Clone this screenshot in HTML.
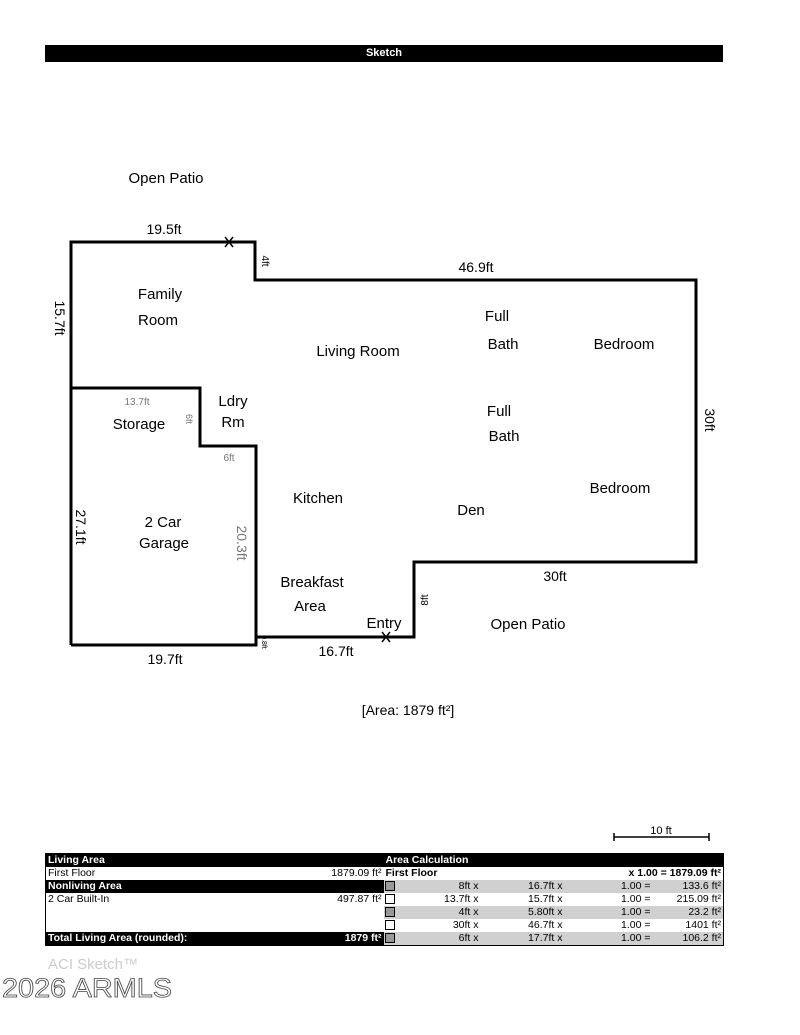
<!DOCTYPE html>
<html><head><meta charset="utf-8"><style>
body{margin:0;background:#fff;width:800px;height:1035px;overflow:hidden;font-family:"Liberation Sans",sans-serif;position:relative}
.bar{position:absolute;left:45px;top:45px;width:678px;height:17px;background:#000;color:#fff;font-weight:bold;font-size:11px;text-align:center;line-height:17px}
table{position:absolute;left:45px;top:853px;width:678px;border-collapse:collapse;table-layout:fixed;font-size:10.5px;font-family:"Liberation Sans Narrow","Liberation Sans",sans-serif;border:1px solid #000}
td{height:13px;padding:0 2px;line-height:13px;white-space:nowrap;overflow:hidden}
.h{background:#000;color:#fff;font-weight:bold}
.g{background:#d0d0d0}
.r{text-align:right}
.cb{padding:0;text-align:center}
.cb span{display:inline-block;width:8px;height:8px;border:1.5px solid #000;vertical-align:middle}
</style></head><body>
<div class="bar">Sketch</div>
<svg width="800" height="1035" style="position:absolute;left:0;top:0" font-family="Liberation Sans, DejaVu Sans, sans-serif">
<g fill="none" stroke="#000" stroke-width="3">
<polyline points="71,645 71,242 255,242 255,280 696,280 696,562 414,562 414,637 256,637"/>
<polyline points="71,388 200,388 200,446 256,446 256,645 71,645"/>
</g>
<g stroke="#000" stroke-width="1.5"><path d="M225,237 L233,247 M233,237 L225,247 M382,632 L390,642 M390,632 L382,642"/></g>
<g font-size="15" fill="#000" text-anchor="middle">
<text x="166" y="183">Open Patio</text>
<text x="164" y="234" font-size="14">19.5ft</text>
<text x="476" y="272" font-size="14">46.9ft</text>
<text x="160" y="299">Family</text><text x="158" y="325">Room</text>
<text x="358" y="356">Living Room</text>
<text x="497" y="321">Full</text><text x="503" y="349">Bath</text>
<text x="624" y="349">Bedroom</text>
<text x="499" y="416">Full</text><text x="504" y="441">Bath</text>
<text x="233" y="406">Ldry</text><text x="233" y="427">Rm</text>
<text x="139" y="429">Storage</text>
<text x="318" y="503">Kitchen</text>
<text x="471" y="515">Den</text>
<text x="620" y="493">Bedroom</text>
<text x="163" y="527">2 Car</text><text x="164" y="548">Garage</text>
<text x="312" y="587">Breakfast</text><text x="310" y="611">Area</text>
<text x="384" y="628">Entry</text>
<text x="528" y="629">Open Patio</text>
<text x="555" y="581" font-size="14">30ft</text>
<text x="336" y="656" font-size="14">16.7ft</text>
<text x="165" y="664" font-size="14">19.7ft</text>
<text x="408" y="715" font-size="14">[Area: 1879 ft²]</text>
<text x="661" y="834" font-size="11">10 ft</text>
</g>
<g fill="#777" font-size="10" text-anchor="middle">
<text x="137" y="405">13.7ft</text>
<text x="229" y="461">6ft</text>
</g>
<g font-size="14" text-anchor="middle">
<text transform="translate(55,318) rotate(90)">15.7ft</text>
<text transform="translate(76,527) rotate(90)">27.1ft</text>
<text transform="translate(705,420) rotate(90)">30ft</text>
<text transform="translate(237,543) rotate(90)" fill="#777">20.3ft</text>
<text transform="translate(262,261) rotate(90)" font-size="10">4ft</text>
<text transform="translate(428,600) rotate(-90)" font-size="10">8ft</text>
<text transform="translate(186,419) rotate(90)" font-size="9" fill="#777">6ft</text>
<text transform="translate(262,642) rotate(90)" font-size="7">0.8ft</text>
</g>
<g stroke="#000" stroke-width="1.5"><path d="M614,837 L709,837 M614,833 L614,841 M709,833 L709,841"/></g>
<text x="48" y="969" font-size="15" fill="#ccc">ACI Sketch™</text>
<text x="2" y="997" font-size="27" fill="none" stroke="#444" stroke-width="0.8" textLength="170" lengthAdjust="spacingAndGlyphs">2026 ARMLS</text>
</svg>
<table>
<colgroup><col style="width:258px"><col style="width:80px"><col style="width:12px"><col style="width:85px"><col style="width:84px"><col style="width:88px"><col style="width:71px"></colgroup>
<tr class="h"><td>Living Area</td><td></td><td colspan="5">Area Calculation</td></tr>
<tr><td>First Floor</td><td class="r">1879.09 ft²</td><td colspan="3" style="font-weight:bold">First Floor</td><td colspan="2" class="r" style="font-weight:bold">x 1.00 = 1879.09 ft²</td></tr>
<tr><td class="h">Nonliving Area</td><td class="h"></td><td class="cb g"><span style="background:#999"></span></td><td class="r g">8ft x</td><td class="r g">16.7ft x</td><td class="r g">1.00 =</td><td class="r g">133.6 ft²</td></tr>
<tr><td>2 Car Built-In</td><td class="r">497.87 ft²</td><td class="cb"><span></span></td><td class="r">13.7ft x</td><td class="r">15.7ft x</td><td class="r">1.00 =</td><td class="r">215.09 ft²</td></tr>
<tr><td></td><td></td><td class="cb g"><span style="background:#999"></span></td><td class="r g">4ft x</td><td class="r g">5.80ft x</td><td class="r g">1.00 =</td><td class="r g">23.2 ft²</td></tr>
<tr><td></td><td></td><td class="cb"><span></span></td><td class="r">30ft x</td><td class="r">46.7ft x</td><td class="r">1.00 =</td><td class="r">1401 ft²</td></tr>
<tr><td class="h">Total Living Area (rounded):</td><td class="h r">1879 ft²</td><td class="cb g"><span style="background:#999"></span></td><td class="r g">6ft x</td><td class="r g">17.7ft x</td><td class="r g">1.00 =</td><td class="r g">106.2 ft²</td></tr>
</table>
</body></html>
